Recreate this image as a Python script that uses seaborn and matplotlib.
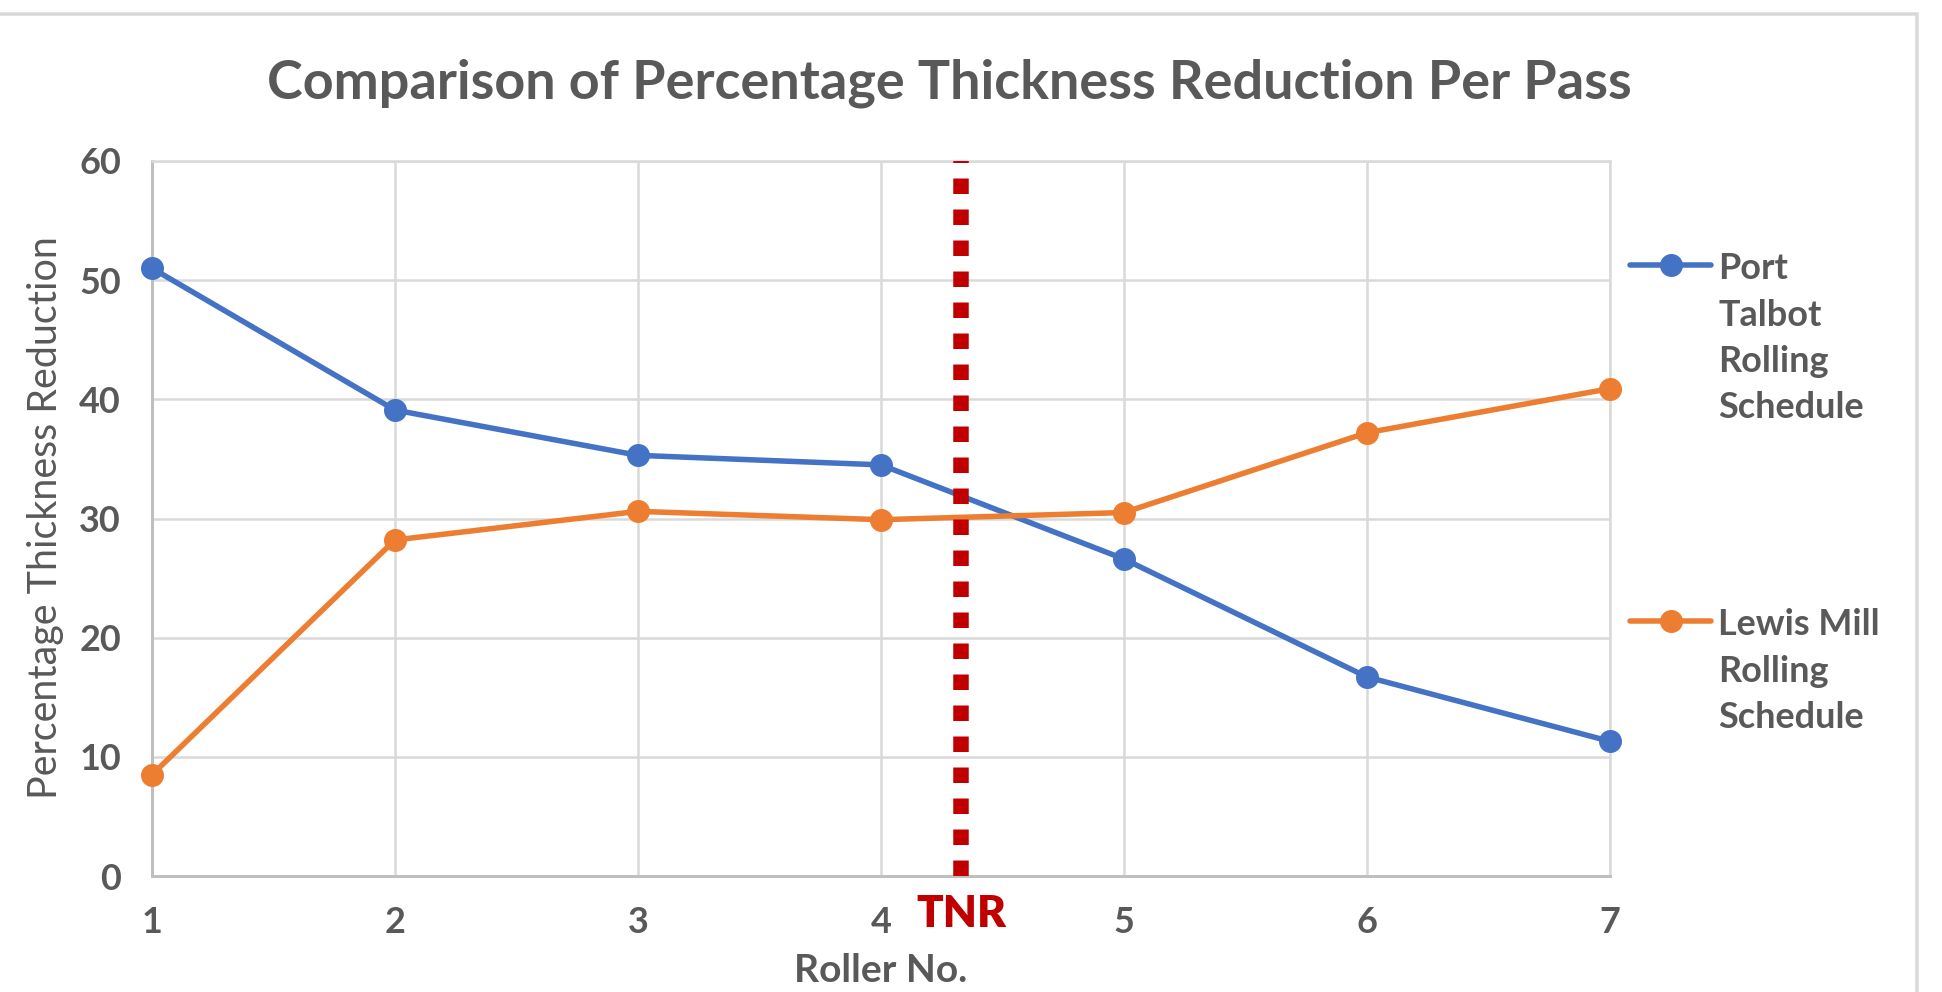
import matplotlib
matplotlib.use("Agg")
import matplotlib.pyplot as plt
from matplotlib.patches import Rectangle
import pandas as pd
import seaborn as sns

# ---- data -------------------------------------------------------------
rollers = [1, 2, 3, 4, 5, 6, 7]
port_talbot = [51.0, 39.1, 35.3, 34.5, 26.6, 16.7, 11.3]
lewis_mill = [8.5, 28.2, 30.6, 29.9, 30.5, 37.2, 40.9]
series_names = ["Port\nTalbot\nRolling\nSchedule", "Lewis Mill\nRolling\nSchedule"]
series_colors = ["#4472C4", "#ED7D31"]
y_ticks = [0, 10, 20, 30, 40, 50, 60]
tnr_position = 4.33
tnr_label = "TNR"
title = "Comparison of Percentage Thickness Reduction Per Pass"
x_title = "Roller No."
y_title = "Percentage Thickness Reduction"

# ---- style ------------------------------------------------------------
DPI = 100
W, H = 1942, 992


def pt(pixels):
    """Convert a size in output pixels to points."""
    return pixels * 72 / DPI


TEXT = "#595959"
GRID = "#D9D9D9"
AXIS = "#BFBFBF"
TNR_RED = "#C00000"

sns.set_theme(style="white")
plt.rcParams["font.family"] = ["Lato", "DejaVu Sans"]

fig = plt.figure(figsize=(W / DPI, H / DPI), dpi=DPI)
fig.patch.set_facecolor("white")

# plot area in pixels: x 152..1610, y 161..876
L, R, T, B = 152, 1610, 161, 876
ax = fig.add_axes([L / W, 1 - B / H, (R - L) / W, (B - T) / H])

df = pd.DataFrame({
    "roller": rollers * 2,
    "reduction": port_talbot + lewis_mill,
    "schedule": [series_names[0]] * len(rollers) + [series_names[1]] * len(rollers),
})

sns.lineplot(
    data=df, x="roller", y="reduction", hue="schedule",
    hue_order=series_names,
    palette=dict(zip(series_names, series_colors)),
    marker="o", markersize=pt(23), markeredgewidth=0,
    linewidth=pt(5.5), legend=False, ax=ax, zorder=3, clip_on=False,
)

ax.set_xlim(rollers[0], rollers[-1])
ax.set_ylim(y_ticks[0], y_ticks[-1])
ax.set_xticks(rollers)
ax.set_yticks(y_ticks)
ax.grid(True, color=GRID, linewidth=pt(2.5), zorder=0)
ax.set_axisbelow(True)
for side in ("top", "right"):
    ax.spines[side].set_color(GRID)
    ax.spines[side].set_linewidth(pt(2.5))
for side in ("left", "bottom"):
    ax.spines[side].set_color(AXIS)
    ax.spines[side].set_linewidth(pt(3))

ax.tick_params(axis="both", length=0, labelsize=pt(36), labelcolor=TEXT)
ax.tick_params(axis="y", pad=pt(31))
ax.tick_params(axis="x", pad=pt(30))
for lab in ax.get_xticklabels() + ax.get_yticklabels():
    lab.set_fontweight("bold")

# TNR marker line
ax.axvline(tnr_position, color=TNR_RED, linewidth=pt(15.5),
           linestyle=(0, (1, 1)), dash_capstyle="butt", zorder=4)
ax.annotate(tnr_label, xy=(tnr_position, (B - 914) / (B - T)),
            xycoords=("data", "axes fraction"), ha="center", va="center",
            color=TNR_RED, fontsize=pt(44), fontweight="heavy",
            annotation_clip=False)

# axis titles
ax.set_xlabel(x_title, fontsize=pt(39), fontweight="bold", color=TEXT, va="center")
ax.xaxis.set_label_coords(0.5, (B - 970) / (B - T))
ax.set_ylabel(y_title, fontsize=pt(39.5), color=TEXT, va="center")
ax.yaxis.set_label_coords((46 - L) / (R - L), (B - 518) / (B - T))

fig.text(949 / W, 1 - 83 / H, title, ha="center", va="center",
         fontsize=pt(54), fontweight="bold", color=TEXT)

# legend
handles = ax.get_lines()[:2]
leg = ax.legend(
    handles, series_names, loc="upper left",
    bbox_to_anchor=(1630 / W, 1 - 252 / H), bbox_transform=fig.transFigure,
    frameon=False, fontsize=pt(36), handlelength=2.25, handletextpad=0.2,
    labelspacing=5.1, borderpad=0, borderaxespad=0,
)
for txt in leg.get_texts():
    txt.set_color(TEXT)
    txt.set_fontweight("bold")
    txt.set_linespacing(1.5)
for col in leg._legend_handle_box.get_children():
    for row in col.get_children():
        row.align = "top"

# chart border
fig.add_artist(Rectangle((-0.01, -0.01), 1917 / W + 0.01, 1 - 14 / H + 0.01,
                         transform=fig.transFigure, fill=False,
                         edgecolor=GRID, linewidth=pt(3.5)))

fig.savefig("out.png", dpi=DPI, facecolor="white")
